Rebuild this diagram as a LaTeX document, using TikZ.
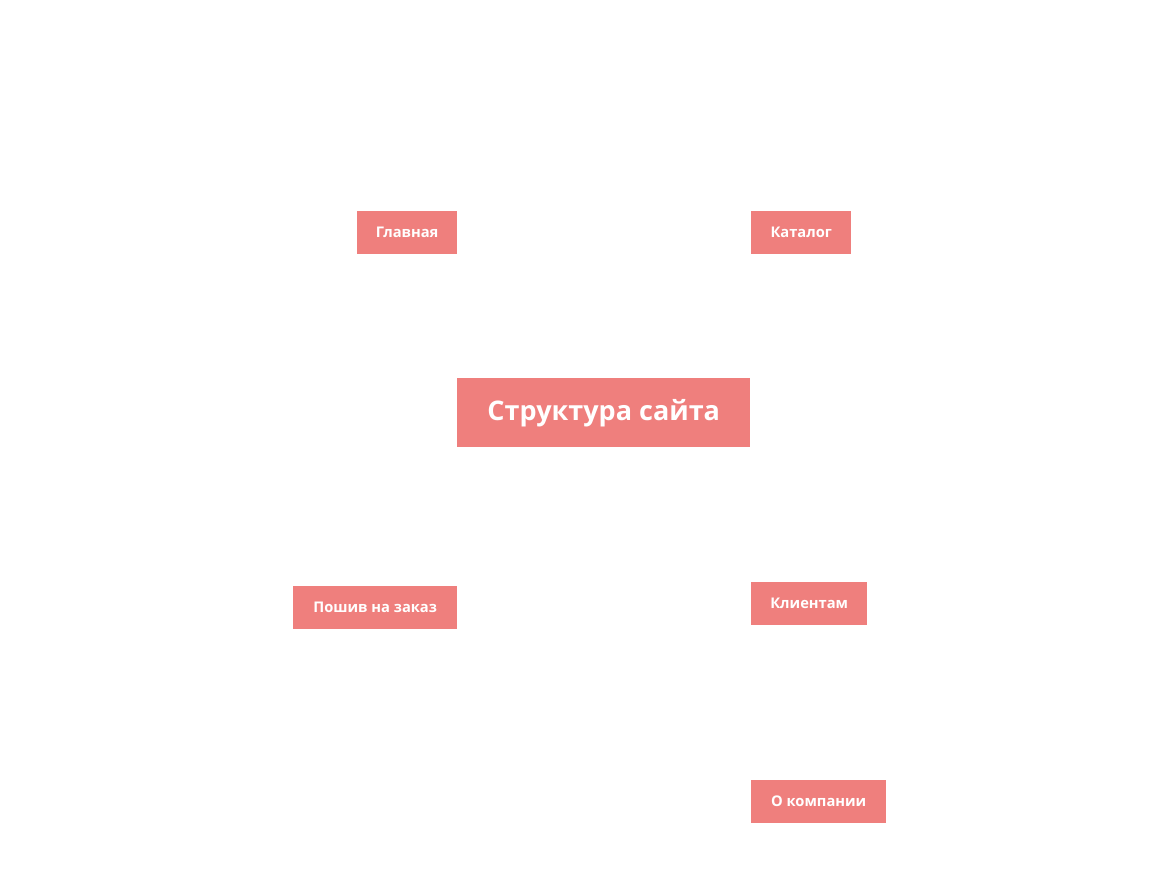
\documentclass[tikz,border=0pt]{standalone}
\usepackage{fontspec}
\setmainfont{Open Sans}
\usepackage{xcolor}
\usetikzlibrary{positioning}
\definecolor{boxred}{HTML}{EF7F7D}

\tikzset{
  page/.style={boxred, fill=boxred, text=white, font=\bfseries\fontsize{14.7}{18}\selectfont,
    inner sep=0pt, minimum height=43pt, anchor=north west},
  root/.style={page, font=\bfseries\fontsize{27}{30}\selectfont, minimum height=69pt}
}

\begin{document}
\begin{tikzpicture}[x=1pt, y=-1pt]
  \useasboundingbox (0,0) rectangle (1160,881);

  % Center
  \node[root, minimum width=293pt] (site) at (457,378) {Структура сайта};

  % Sections
  \node[page, minimum width=100pt] (main) at (357,211) {Главная};
  \node[page, minimum width=100pt] (catalog) at (751,211) {Каталог};
  \node[page, minimum width=164pt] (tailor) at (293,586) {Пошив на заказ};
  \node[page, minimum width=116pt] (clients) at (751,582) {Клиентам};
  \node[page, minimum width=135pt] (about) at (751,780) {О компании};
\end{tikzpicture}
\end{document}
